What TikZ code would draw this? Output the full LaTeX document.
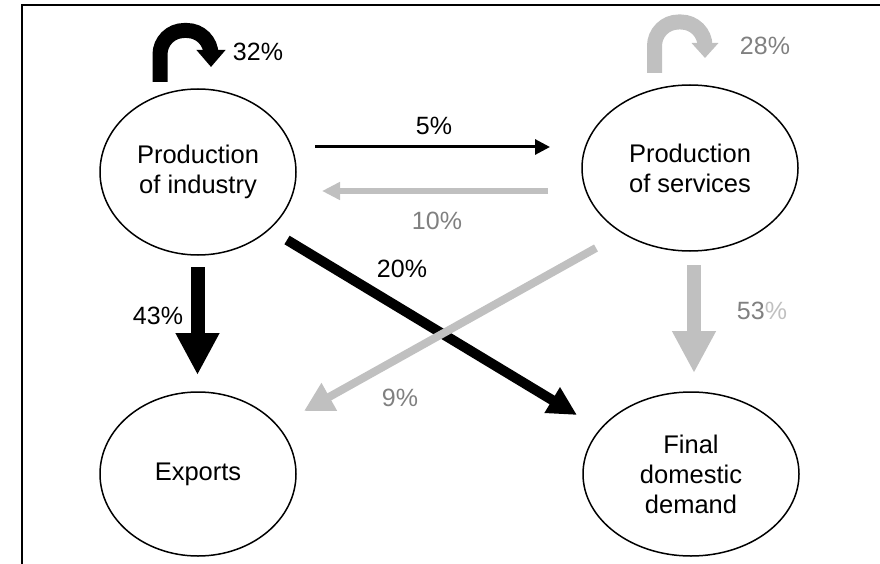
\documentclass[tikz,border=0pt]{standalone}
\usepackage{fontspec}
\setmainfont{Liberation Sans}
\usetikzlibrary{shapes.geometric,arrows.meta,calc}
\definecolor{flowgray}{RGB}{192,192,192}
\definecolor{labelgray}{RGB}{128,128,128}
\begin{document}
\begin{tikzpicture}[x=1pt,y=-1pt,
  sector/.style={ellipse,draw,line width=1.5pt,inner sep=0pt,align=center,
    font=\fontsize{25.5}{30}\selectfont},
  pct/.style={inner sep=0pt,font=\fontsize{25}{30}\selectfont},
  greypct/.style={pct,text=labelgray},
  flow/.style={line cap=butt},
]
\useasboundingbox (0,0) rectangle (880,564);

% frame
\draw[line width=2.5pt] (22,564) -- (22,5) -- (880,5);

% sectors
\node[sector,minimum width=196,minimum height=166] (ind) at (198,172) {Production\\of industry};
\node[sector,minimum width=216,minimum height=166] (svc) at (690,168) {Production\\of services};
\node[sector,minimum width=196,minimum height=164] (exp) at (198,474) {Exports};
\node[sector,minimum width=216,minimum height=164] (fin) at (691,474) {Final\\domestic\\demand};

% own-sector loops
\draw[flow,line width=15pt,rounded corners=24pt,-{Triangle[length=17pt,width=28pt]}]
  ($(ind.center)+(-38,-90)$) -- ($(ind.center)+(-38,-141.5)$)
  -- ($(ind.center)+(13,-141.5)$) -- ($(ind.center)+(13,-105)$);
\draw[flow,flowgray,line width=15pt,rounded corners=24pt,-{Triangle[length=15pt,width=26pt]}]
  ($(svc.center)+(-35.5,-95)$) -- ($(svc.center)+(-35.5,-146)$)
  -- ($(svc.center)+(15,-146)$) -- ($(svc.center)+(15,-110)$);

% flows between the two producing sectors
\draw[flow,line width=3pt,-{Triangle[length=15pt,width=15pt]}]
  ($(ind.center)+(117,-25)$) -- ($(svc.center)+(-140,-21)$);
\draw[flow,flowgray,line width=6pt,-{Triangle[length=18pt,width=17pt]}]
  ($(svc.center)+(-142,23)$) -- ($(ind.center)+(124,19)$);

% flows to exports and demand
\draw[flow,line width=14pt,-{Triangle[length=42pt,width=41pt]}]
  ($(ind.center)+(-0.5,95)$) -- ($(exp.center)+(-0.5,-99)$);
\draw[flow,flowgray,line width=14pt,-{Triangle[length=42pt,width=41pt]}]
  ($(svc.center)+(4,97)$) -- ($(fin.center)+(3,-101)$);
\draw[flow,line width=10pt,-{Triangle[length=29pt,width=28pt]}]
  ($(ind.center)+(89,68)$) -- ($(fin.center)+(-114,-59)$);
\draw[flow,flowgray,line width=8pt,-{Triangle[length=29pt,width=30pt]}]
  ($(svc.center)+(-94,80)$) -- ($(exp.center)+(106,-63)$);

% shares
\node[pct] (l32) at (258,52) {32\%};
\node[greypct] (l28) at (765,46) {28\%};
\node[pct] (l5) at (434,126) {5\%};
\node[greypct] (l10) at (437,221) {10\%};
\node[pct] (l20) at (402,269) {20\%};
\node[greypct] (l9) at (400,398) {9\%};
\node[pct] (l43) at (158,316) {43\%};
\node[pct] (l53) at (762,311) {\textcolor{labelgray}{53}\textcolor{flowgray}{\%}};
\end{tikzpicture}
\end{document}
